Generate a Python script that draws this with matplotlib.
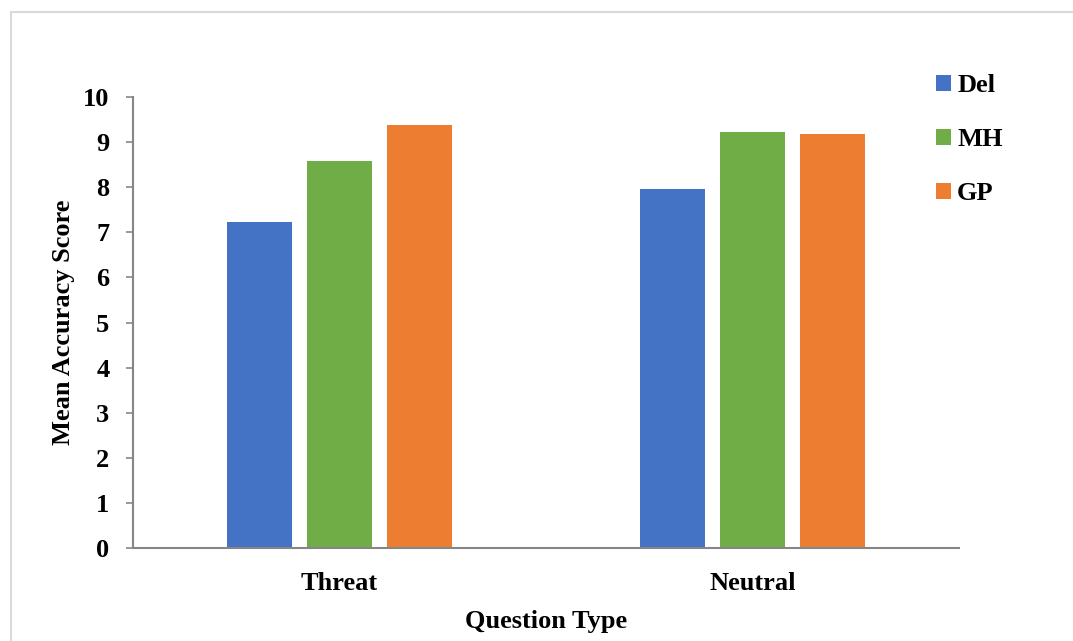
import numpy as np
import matplotlib.pyplot as plt
from matplotlib.patches import Rectangle

# mean accuracy per group and question type
categories = ["Threat", "Neutral"]
groups = ["Del", "MH", "GP"]
del_scores = [7.22, 7.95]
mh_scores = [8.59, 9.22]
gp_scores = [9.38, 9.18]
y_ticks = list(range(0, 11))

colors = ["#4472C4", "#70AD47", "#ED7D31"]
axis_gray = "#868686"

plt.rcParams['font.family'] = ['Liberation Serif', 'DejaVu Serif']
plt.rcParams['font.weight'] = 'bold'

W, H = 1073, 641
fig = plt.figure(figsize=(W / 100, H / 100), dpi=100)
ax = fig.add_axes([133 / W, 93 / H, 826 / W, 451 / H])

# thin grey frame round the chart area
fig.patches.append(Rectangle((10.5 / W, -0.1), 1.2, 1.1 - 12 / H,
                             transform=fig.transFigure, fill=False,
                             edgecolor="#d9d9d9", linewidth=1.5))

x = np.arange(len(categories))
step = 80 / 413
width = 65 / 413
for i, (name, vals) in enumerate(zip(groups, [del_scores, mh_scores, gp_scores])):
    ax.bar(x + (i - 1) * step, vals, width, color=colors[i], label=name)

ax.set_xlim(-0.5, 1.5)
ax.set_ylim(0, 10)
ax.set_yticks(y_ticks)
ax.set_xticks(x)
ax.set_xticklabels(categories)

for s in ["top", "right"]:
    ax.spines[s].set_visible(False)
for s in ["left", "bottom"]:
    ax.spines[s].set_color(axis_gray)
    ax.spines[s].set_linewidth(1.5)

ax.tick_params(axis='y', direction='out', length=5, width=1.2, color=axis_gray,
               labelsize=19, pad=12)
ax.tick_params(axis='x', length=0, labelsize=19, pad=17)
for lbl in ax.get_xticklabels() + ax.get_yticklabels():
    lbl.set_fontweight('bold')

ax.set_ylabel("Mean Accuracy Score", fontsize=19, fontweight='bold', labelpad=6)
ax.set_xlabel("Question Type", fontsize=19, fontweight='bold', labelpad=11)

leg = fig.legend(loc='upper left', bbox_to_anchor=(936 / W, 1 - 74 / H),
                 frameon=False, prop={'size': 19, 'weight': 'bold'},
                 handlelength=0.55, handleheight=0.55, handletextpad=0.25,
                 labelspacing=1.18, borderpad=0, borderaxespad=0)

fig.savefig("out.png", dpi=100)
